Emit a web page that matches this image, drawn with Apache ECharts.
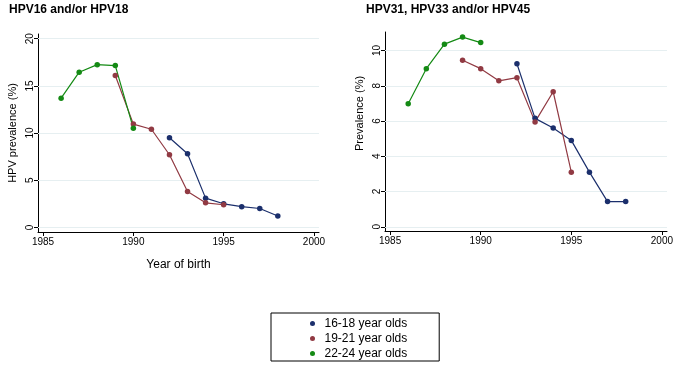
<!DOCTYPE html>
<html>
<head>
<meta charset="utf-8">
<script src="https://cdn.jsdelivr.net/npm/echarts@6/dist/echarts.min.js"></script>
<style>
  html, body { margin: 0; padding: 0; background: #fff; }
  #chart { width: 679px; height: 373px; }
</style>
</head>
<body>
<div id="chart"></div>
<script>
// ---- Data ----
const titles = ['HPV16 and/or HPV18', 'HPV31, HPV33 and/or HPV45'];
const ageGroups = ['16-18 year olds', '19-21 year olds', '22-24 year olds'];

const years1618 = [1992, 1993, 1994, 1995, 1996, 1997, 1998];
const years1921 = [1989, 1990, 1991, 1992, 1993, 1994, 1995];
const years2224 = [1986, 1987, 1988, 1989, 1990];

// HPV16 and/or HPV18
const hpv1618_age1618 = [9.5, 7.8, 3.1, 2.5, 2.2, 2.0, 1.2];
const hpv1618_age1921 = [16.1, 10.95, 10.4, 7.7, 3.8, 2.6, 2.4];
const hpv1618_age2224 = [13.7, 16.45, 17.25, 17.15, 10.5];

// HPV31, HPV33 and/or HPV45
const hpv313345_age1618 = [9.25, 6.15, 5.6, 4.9, 3.1, 1.43, 1.43];
const hpv313345_age1921 = [9.45, 8.97, 8.28, 8.46, 5.95, 7.66, 3.1];
const hpv313345_age2224 = [6.98, 8.97, 10.36, 10.76, 10.45];

const xTicks = [1985, 1990, 1995, 2000];
const yTicksLeft = [0, 5, 10, 15, 20];
const yTicksRight = [0, 2, 4, 6, 8, 10];

// ---- Styles ----
const colors = ['#1b2f6c', '#913a43', '#148a14'];
const font = 'Liberation Sans, Arial, sans-serif';
const gridColor = '#e6eff1';

const pairs = (xs, ys) => xs.map((x, i) => [x, ys[i]]);

function makeX(gridIndex, name) {
  return {
    type: 'value', gridIndex: gridIndex,
    min: 1984.72, max: 2000.28,
    name: name, nameLocation: 'middle', nameGap: 27,
    nameTextStyle: { fontFamily: font, fontSize: 12, color: '#000' },
    axisLine: { show: true, onZero: false, lineStyle: { color: '#000', width: 1 } },
    axisTick: { show: true, length: 4, customValues: xTicks, lineStyle: { color: '#000' } },
    axisLabel: { customValues: xTicks, formatter: v => String(v), fontFamily: font, fontSize: 10, color: '#000', margin: 5 },
    splitLine: { show: false }
  };
}
function makeY(gridIndex, min, max, ticks, name, padLeft) {
  return {
    type: 'value', gridIndex: gridIndex,
    min: min, max: max,
    name: name, nameLocation: 'middle', nameGap: 20, nameRotate: 90,
    nameTextStyle: { fontFamily: font, fontSize: 11, color: '#000', padding: [0, 0, 0, padLeft] },
    axisLine: { show: true, onZero: false, lineStyle: { color: '#000', width: 1 } },
    axisTick: { show: true, length: 4, customValues: ticks, lineStyle: { color: '#000' } },
    axisLabel: { customValues: ticks, formatter: v => String(v), rotate: 90, fontFamily: font, fontSize: 10, color: '#000', margin: 3 },
    splitLine: { show: false }
  };
}
function gridSeries(idx, ticks) {
  return {
    type: 'line', name: '_grid' + idx, xAxisIndex: idx, yAxisIndex: idx, data: [], z: 1,
    markLine: {
      silent: true, symbol: ['none', 'none'], z: 1,
      label: { show: false },
      lineStyle: { color: gridColor, type: 'solid', width: 1 },
      emphasis: { disabled: true },
      data: ticks.map(v => ({ yAxis: v }))
    }
  };
}
function dataSeries(idx, k, xs, ys) {
  return {
    type: 'line', name: ageGroups[k], xAxisIndex: idx, yAxisIndex: idx,
    data: pairs(xs, ys), z: 3,
    symbol: 'circle', symbolSize: 5.5, showSymbol: true,
    itemStyle: { color: colors[k] },
    lineStyle: { color: colors[k], width: 1.2 },
    emphasis: { disabled: true },
    animation: false
  };
}

const chart = echarts.init(document.getElementById('chart'), null, { renderer: 'canvas' });
chart.setOption({
  animation: false,
  backgroundColor: '#fff',
  textStyle: { fontFamily: font },
  title: [
    { text: titles[0], left: 9, top: 4, padding: 0, textStyle: { fontFamily: font, fontSize: 12, fontWeight: 'bold', color: '#000' } },
    { text: titles[1], left: 366, top: 4, padding: 0, textStyle: { fontFamily: font, fontSize: 12, fontWeight: 'bold', color: '#000' } }
  ],
  grid: [
    { left: 38, top: 34, width: 281, height: 198, containLabel: false },
    { left: 385, top: 32, width: 282, height: 199, containLabel: false }
  ],
  xAxis: [makeX(0, 'Year of birth'), makeX(1, '')],
  yAxis: [
    makeY(0, -0.49, 20.5, yTicksLeft, 'HPV prevalence (%)', 0),
    makeY(1, -0.24, 11.05, yTicksRight, 'Prevalence (%)', 36)
  ],
  legend: {
    data: ageGroups,
    orient: 'vertical',
    left: 271, top: 313,
    padding: [3, 32, 0, 39],
    itemGap: 0,
    itemWidth: 14, itemHeight: 5,
    icon: 'circle',
    borderColor: '#000', borderWidth: 1, borderRadius: 0,
    backgroundColor: '#fff',
    selectedMode: false,
    textStyle: { fontFamily: font, fontSize: 12, color: '#000', lineHeight: 15 }
  },
  series: [
    gridSeries(0, yTicksLeft),
    gridSeries(1, yTicksRight),
    dataSeries(0, 0, years1618, hpv1618_age1618),
    dataSeries(0, 1, years1921, hpv1618_age1921),
    dataSeries(0, 2, years2224, hpv1618_age2224),
    dataSeries(1, 0, years1618, hpv313345_age1618),
    dataSeries(1, 1, years1921, hpv313345_age1921),
    dataSeries(1, 2, years2224, hpv313345_age2224)
  ]
});
</script>
</body>
</html>
